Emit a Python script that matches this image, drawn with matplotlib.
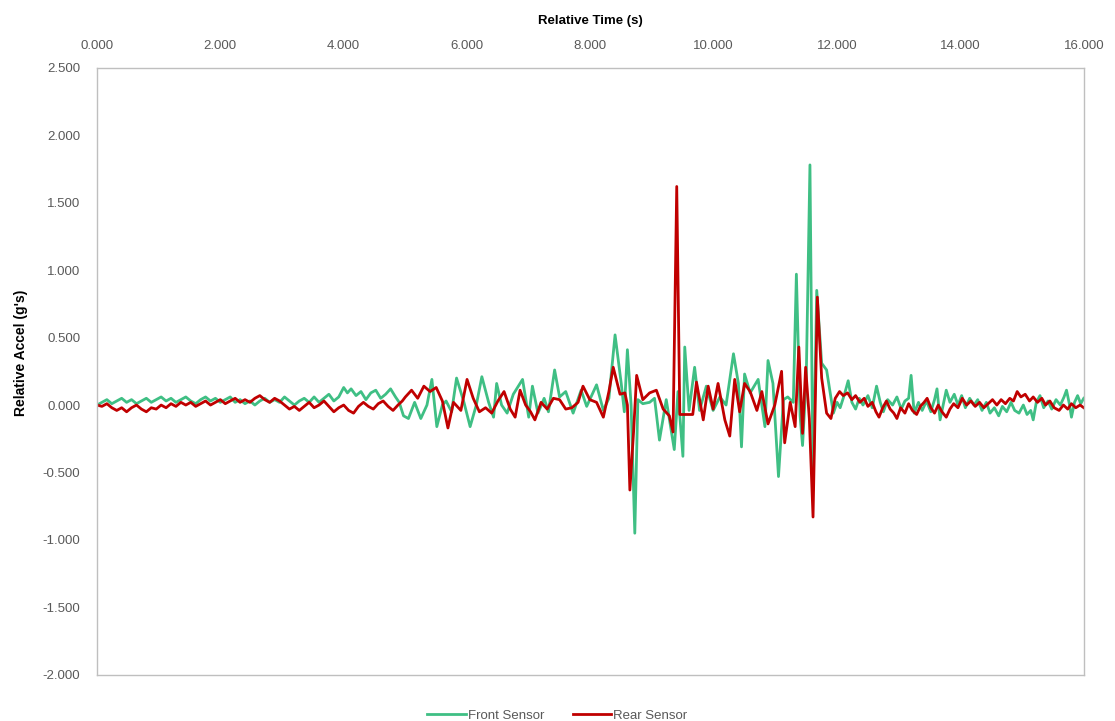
import matplotlib
matplotlib.use('Agg')
import matplotlib.pyplot as plt
from matplotlib.ticker import FormatStrFormatter

plt.rcParams['font.family'] = ['Liberation Sans', 'DejaVu Sans']

# front sensor (green)
front_t = [0.0, 0.08, 0.16, 0.24, 0.32, 0.4, 0.48, 0.56, 0.64, 0.72, 0.8, 0.88, 0.96, 1.04,
           1.12, 1.2, 1.28, 1.36, 1.44, 1.52, 1.6, 1.68, 1.76, 1.84, 1.92, 2.0, 2.08, 2.16,
           2.24, 2.32, 2.4, 2.48, 2.56, 2.64, 2.72, 2.8, 2.88, 2.96, 3.04, 3.12, 3.2, 3.28,
           3.36, 3.44, 3.52, 3.6, 3.68, 3.76, 3.84, 3.92, 4.0, 4.06, 4.12, 4.2, 4.28, 4.36,
           4.44, 4.52, 4.6, 4.68, 4.76, 4.84, 4.9, 4.97, 5.05, 5.15, 5.25, 5.35, 5.43, 5.51,
           5.6, 5.66, 5.75, 5.83, 5.95, 6.05, 6.15, 6.24, 6.35, 6.43, 6.48, 6.56, 6.65,
           6.75, 6.9, 7.0, 7.06, 7.15, 7.25, 7.32, 7.42, 7.5, 7.6, 7.72, 7.85, 7.94, 8.1,
           8.21, 8.3, 8.4, 8.5, 8.55, 8.6, 8.66, 8.72, 8.77, 8.85, 8.96, 9.04, 9.12, 9.23,
           9.36, 9.42, 9.5, 9.53, 9.6, 9.69, 9.77, 9.88, 9.99, 10.1, 10.2, 10.32, 10.4,
           10.45, 10.5, 10.59, 10.72, 10.83, 10.88, 10.96, 11.05, 11.13, 11.2, 11.29,
           11.34, 11.4, 11.44, 11.5, 11.56, 11.61, 11.67, 11.75, 11.83, 11.94, 12.0,
           12.05, 12.12, 12.18, 12.24, 12.3, 12.36, 12.42, 12.5, 12.57, 12.64, 12.7, 12.75,
           12.82, 12.9, 12.97, 13.04, 13.1, 13.16, 13.2, 13.25, 13.32, 13.38, 13.45, 13.52,
           13.58, 13.62, 13.67, 13.72, 13.77, 13.83, 13.9, 13.96, 14.02, 14.08, 14.15,
           14.22, 14.28, 14.35, 14.42, 14.48, 14.55, 14.62, 14.68, 14.75, 14.82, 14.88,
           14.95, 15.02, 15.08, 15.14, 15.18, 15.23, 15.29, 15.35, 15.42, 15.48, 15.55,
           15.62, 15.68, 15.72, 15.77, 15.8, 15.85, 15.9, 15.95, 16.0]
front_g = [0.0, 0.02, 0.04, 0.01, 0.03, 0.05, 0.02, 0.04, 0.01, 0.03, 0.05, 0.02, 0.04, 0.06,
           0.03, 0.05, 0.02, 0.04, 0.06, 0.03, 0.01, 0.04, 0.06, 0.03, 0.05, 0.02, 0.04, 0.06,
           0.02, 0.04, 0.01, 0.03, 0.0, 0.03, 0.05, 0.02, 0.04, 0.02, 0.06, 0.03, 0.0, 0.03,
           0.05, 0.02, 0.06, 0.02, 0.05, 0.08, 0.03, 0.06, 0.13, 0.09, 0.12, 0.07, 0.10, 0.04,
           0.09, 0.11, 0.05, 0.08, 0.12, 0.06, 0.02, -0.08, -0.10, 0.02, -0.10, 0.0, 0.19, -0.16,
           0.0, 0.03, -0.05, 0.20, 0.02, -0.16, 0.0, 0.21, 0.02, -0.09, 0.16, 0.0, -0.06,
           0.08, 0.19, -0.09, 0.14, -0.06, 0.05, -0.05, 0.26, 0.06, 0.10, -0.06, 0.11, -0.01, 0.15,
           -0.04, 0.05, 0.52, 0.16, -0.05, 0.41, 0.0, -0.95, 0.04, 0.01, 0.02, 0.05, -0.26, 0.04,
           -0.33, 0.10, -0.38, 0.43, -0.04, 0.28, -0.04, 0.14, -0.04, 0.06, 0.0, 0.38, 0.16,
           -0.31, 0.23, 0.09, 0.19, -0.16, 0.33, 0.16, -0.53, 0.04, 0.06, 0.02,
           0.97, -0.08, -0.30, 0.20, 1.78, -0.63, 0.85, 0.31, 0.26, -0.06, 0.02,
           -0.02, 0.08, 0.18, 0.02, -0.03, 0.05, 0.0, 0.07, -0.02, 0.14, 0.02, -0.05,
           0.04, 0.0, 0.06, -0.03, 0.03, 0.05, 0.22, -0.06, 0.02, -0.04, 0.03, -0.05,
           0.04, 0.12, -0.11, 0.0, 0.11, 0.02, 0.08, 0.0, 0.07, -0.02, 0.05,
           0.0, 0.04, -0.04, 0.02, -0.06, -0.02, -0.08, -0.01, -0.05, 0.02, -0.04,
           -0.06, 0.0, -0.07, -0.04, -0.11, 0.02, 0.07, -0.02, 0.03, -0.03, 0.04,
           0.0, 0.06, 0.11, 0.0, -0.09, 0.02, 0.07, 0.01, 0.05]

# rear sensor (dark red)
rear_t = [0.0, 0.08, 0.16, 0.24, 0.32, 0.4, 0.48, 0.56, 0.64, 0.72, 0.8, 0.88, 0.96, 1.04,
          1.12, 1.2, 1.28, 1.36, 1.44, 1.52, 1.6, 1.68, 1.76, 1.84, 1.92, 2.0, 2.08, 2.16,
          2.24, 2.32, 2.4, 2.48, 2.56, 2.64, 2.72, 2.8, 2.88, 2.96, 3.04, 3.12, 3.2, 3.28,
          3.36, 3.44, 3.52, 3.6, 3.68, 3.76, 3.84, 3.92, 4.0, 4.08, 4.16, 4.24, 4.32, 4.4,
          4.48, 4.56, 4.64, 4.72, 4.8, 4.88, 4.95,
          5.0, 5.1, 5.2, 5.3, 5.4, 5.5, 5.6, 5.69, 5.78, 5.9, 6.0, 6.1, 6.2, 6.3, 6.4, 6.5,
          6.6, 6.7, 6.78, 6.86, 6.95, 7.03, 7.1, 7.2, 7.3, 7.4, 7.5, 7.6, 7.7, 7.8, 7.88,
          7.99, 8.1, 8.21, 8.3, 8.37, 8.48, 8.56, 8.6, 8.64, 8.7, 8.75, 8.85, 8.96, 9.07,
          9.18, 9.28, 9.34, 9.4, 9.45, 9.55, 9.66, 9.72, 9.83, 9.91, 9.99, 10.07, 10.18,
          10.26, 10.34, 10.42, 10.5, 10.59, 10.7, 10.78, 10.88, 10.99, 11.1, 11.15, 11.24,
          11.32, 11.38, 11.44, 11.49, 11.55, 11.61, 11.68, 11.75, 11.83, 11.9, 11.97, 12.04,
          12.1, 12.17, 12.24, 12.3, 12.37, 12.44, 12.5, 12.57, 12.63, 12.68, 12.74, 12.8,
          12.86, 12.92, 12.97, 13.03, 13.1, 13.16, 13.22, 13.29, 13.35, 13.41, 13.46, 13.52,
          13.58, 13.64, 13.7, 13.77, 13.83, 13.89, 13.96, 14.03, 14.1, 14.17, 14.24, 14.31,
          14.38, 14.45, 14.52, 14.59, 14.66, 14.73, 14.8, 14.86, 14.92, 14.98, 15.05, 15.12,
          15.18, 15.25, 15.32, 15.38, 15.45, 15.52, 15.6, 15.67, 15.74, 15.8, 15.87, 15.94,
          16.0]
rear_g = [0.0, -0.01, 0.01, -0.02, -0.04, -0.02, -0.05, -0.02, 0.0, -0.03, -0.05, -0.02, -0.03, 0.0,
          -0.02, 0.01, -0.01, 0.02, 0.0, 0.02, -0.01, 0.01, 0.03, 0.0, 0.02, 0.04, 0.01, 0.03,
          0.05, 0.02, 0.04, 0.02, 0.05, 0.07, 0.04, 0.02, 0.05, 0.03, 0.0, -0.03, -0.01, -0.04,
          -0.01, 0.02, -0.02, 0.0, 0.03, -0.01, -0.05, -0.02, 0.0, -0.04, -0.06, -0.01, 0.02, -0.01,
          -0.03, 0.01, 0.03, -0.01, -0.04, 0.0, 0.03,
          0.06, 0.11, 0.05, 0.14, 0.10, 0.13, 0.03, -0.17, 0.02, -0.04, 0.19, 0.05, -0.05, -0.02, -0.06, 0.03,
          0.10, -0.03, -0.09, 0.11, 0.0, -0.05, -0.11, 0.02, -0.03, 0.05, 0.04, -0.03, -0.02, 0.02, 0.14,
          0.04, 0.02, -0.09, 0.10, 0.28, 0.08, 0.09, 0.0, -0.63, -0.20, 0.22, 0.04, 0.09, 0.11,
          -0.03, -0.08, -0.20, 1.62, -0.07, -0.07, -0.07, 0.17, -0.11, 0.14, -0.03, 0.16, -0.11,
          -0.23, 0.19, -0.05, 0.16, 0.10, -0.04, 0.10, -0.14, 0.0, 0.25, -0.28, 0.02,
          -0.16, 0.43, -0.21, 0.28, -0.10, -0.83, 0.80, 0.20, -0.06, -0.10, 0.05, 0.10,
          0.07, 0.09, 0.04, 0.07, 0.02, 0.05, -0.01, 0.02, -0.05, -0.09, -0.02, 0.03,
          -0.03, -0.06, -0.10, -0.02, -0.06, 0.01, -0.04, -0.07, -0.01, 0.02, 0.05, -0.02,
          -0.06, 0.0, -0.05, -0.09, -0.03, 0.01, -0.02, 0.05, 0.0, 0.03, -0.01, 0.02,
          -0.02, 0.01, 0.04, 0.0, 0.04, 0.01, 0.05, 0.03, 0.10, 0.06, 0.08, 0.03,
          0.06, 0.02, 0.05, 0.0, 0.03, -0.02, -0.04, 0.0, -0.03, 0.01, -0.02, 0.0,
          -0.02]

fig = plt.figure(figsize=(11.15, 7.21), dpi=100)
ax = fig.add_axes([0.087, 0.064, 0.885, 0.842])

ax.plot(front_t, front_g, color='#3fbf84', lw=2.0, label='Front Sensor', solid_joinstyle='round')
ax.plot(rear_t, rear_g, color='#c00000', lw=2.0, label='Rear Sensor', solid_joinstyle='round')

ax.set_xlim(0, 16)
ax.set_ylim(-2.0, 2.5)
ax.set_xticks(range(0, 17, 2))
ax.set_yticks([-2.0, -1.5, -1.0, -0.5, 0.0, 0.5, 1.0, 1.5, 2.0, 2.5])
ax.xaxis.set_major_formatter(FormatStrFormatter('%.3f'))
ax.yaxis.set_major_formatter(FormatStrFormatter('%.3f'))
ax.xaxis.tick_top()
ax.xaxis.set_label_position('top')
ax.tick_params(length=0, labelsize=9.5, colors='#595959')
ax.tick_params(axis='x', pad=11)
ax.tick_params(axis='y', pad=12)

for s in ax.spines.values():
    s.set_color('#bfbfbf')
    s.set_linewidth(1.0)

ax.set_xlabel('Relative Time (s)', fontsize=9.5, fontweight='bold', labelpad=12)
ax.set_ylabel("Relative Accel (g's)", fontsize=10, fontweight='bold')
ax.yaxis.set_label_coords(-0.07, 0.53)

fig.legend(loc='lower center', bbox_to_anchor=(0.5, -0.018), ncol=2, frameon=False,
           fontsize=9.5, handlelength=2.9, columnspacing=2.2, handletextpad=0.15, labelcolor='#595959')

fig.savefig('out.png', dpi=100)
